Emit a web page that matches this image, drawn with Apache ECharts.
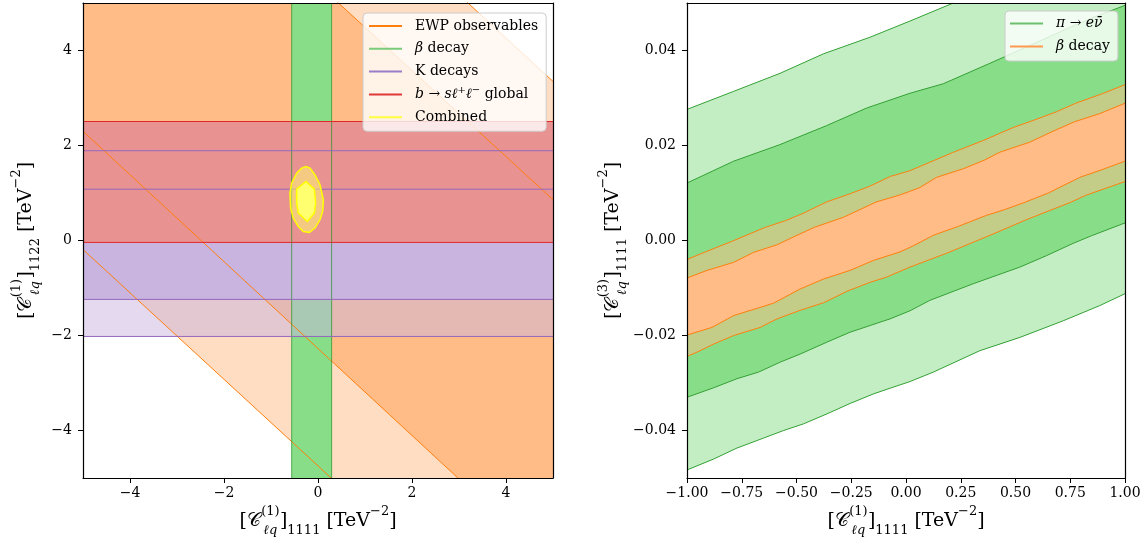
<!DOCTYPE html>
<html>
<head>
<meta charset="utf-8">
<script src="https://cdn.jsdelivr.net/npm/echarts@6/dist/echarts.min.js"></script>
<style>
html,body{margin:0;padding:0;background:#fff;}
#chart{width:1146px;height:548px;}
</style>
</head>
<body>
<div id="chart"></div>
<script>
// ================= LEFT PANEL DATA =================
const leftXRange = [-5, 5];
const leftYRange = [-5, 5];
const leftTicks = [-4, -2, 0, 2, 4];
// EWP observables: contour lines (endpoints at x = -5 and x = 5)
const ewp2sLower = [[-5, -0.19], [5, -9.30]];
const ewp1sLower = [[-5, 2.30], [5, -6.85]];
const ewp1sUpper = [[-5, 9.93], [5, 0.86]];
const ewp2sUpper = [[-5, 12.47], [5, 3.35]];
// beta decay: allowed range in x
const beta1s = [-0.56, 0.29];
// K decays: allowed ranges in y
const kaon1s = [-1.24, 1.08];
const kaon2s = [-2.02, 1.89];
// b -> s l l global: allowed range in y
const bsll1s = [-0.04, 2.505];
// Combined contours
const combined2s = [[-0.597,0.998],[-0.561,1.208],[-0.454,1.419],[-0.348,1.524],[-0.256,1.558],[-0.170,1.524],[-0.064,1.383],[0.043,1.173],[0.114,0.857],[0.100,0.611],[0.043,0.436],[-0.064,0.261],[-0.185,0.168],[-0.313,0.189],[-0.420,0.295],[-0.526,0.472],[-0.582,0.682]];
const combined1s = [[-0.454,1.082],[-0.256,1.242],[-0.078,1.082],[-0.050,0.787],[-0.078,0.577],[-0.228,0.400],[-0.420,0.577],[-0.454,0.787]];

// ================= RIGHT PANEL DATA =================
const rightXRange = [-1, 1];
const rightYRange = [-0.05, 0.05];
const rightYTicks = [-0.04, -0.02, 0, 0.02, 0.04];
// pi -> e nu contours
const pi2sUpper = [[-1,0.0276],[-0.787,0.0314],[-0.575,0.0352],[-0.377,0.0393],[-0.164,0.0428],[0.018,0.0462],[0.216,0.0500]];
const pi1sUpper = [[-1,0.0121],[-0.787,0.0167],[-0.575,0.0202],[-0.362,0.0242],[-0.179,0.0279],[0.018,0.0310],[0.170,0.0330],[0.383,0.0373],[0.572,0.0412],[0.736,0.0446],[0.868,0.0472],[1,0.0495]];
const pi1sLower = [[-1,-0.0330],[-0.878,-0.0310],[-0.772,-0.0291],[-0.673,-0.0277],[-0.574,-0.0256],[-0.483,-0.0239],[-0.361,-0.0214],[-0.255,-0.0193],[-0.164,-0.0179],[-0.073,-0.0165],[0.018,-0.0148],[0.109,-0.0126],[0.307,-0.0091],[0.520,-0.0056],[0.641,-0.0032],[0.763,-0.0006],[0.847,0.0010],[1,0.0037]];
const pi2sLower = [[-1,-0.0483],[-0.878,-0.0460],[-0.772,-0.0437],[-0.651,-0.0416],[-0.559,-0.0400],[-0.468,-0.0386],[-0.361,-0.0365],[-0.255,-0.0343],[-0.149,-0.0323],[-0.073,-0.0311],[0.018,-0.0297],[0.125,-0.0277],[0.337,-0.0232],[0.520,-0.0204],[0.718,-0.0169],[0.885,-0.0137],[1,-0.0112]];
// beta decay contours
const beta2sUpper = [[-1,-0.0040],[-0.927,-0.0026],[-0.796,-0.0002],[-0.647,0.0027],[-0.549,0.0042],[-0.466,0.0058],[-0.364,0.0081],[-0.252,0.0099],[-0.167,0.0114],[-0.071,0.0135],[0.018,0.0147],[0.212,0.0185],[0.355,0.0211],[0.490,0.0238],[0.588,0.0254],[0.687,0.0271],[0.775,0.0289],[0.890,0.0308],[1,0.0328]];
const beta1sUpper = [[-1,-0.0079],[-0.909,-0.0063],[-0.787,-0.0046],[-0.696,-0.0025],[-0.589,-0.0009],[-0.498,0.0011],[-0.417,0.0028],[-0.285,0.0049],[-0.137,0.0081],[-0.027,0.0096],[0.061,0.0111],[0.140,0.0133],[0.261,0.0151],[0.357,0.0169],[0.429,0.0186],[0.565,0.0207],[0.671,0.0230],[0.769,0.0250],[0.884,0.0267],[1,0.0289]];
const beta1sLower = [[-1,-0.0199],[-0.886,-0.0183],[-0.787,-0.0158],[-0.681,-0.0143],[-0.605,-0.0132],[-0.483,-0.0102],[-0.376,-0.0081],[-0.256,-0.0063],[-0.149,-0.0042],[-0.027,-0.0024],[0.034,-0.0011],[0.125,0.0011],[0.240,0.0030],[0.368,0.0053],[0.450,0.0065],[0.535,0.0079],[0.650,0.0100],[0.794,0.0133],[0.900,0.0150],[1,0.0167]];
const beta2sLower = [[-1,-0.0244],[-0.954,-0.0235],[-0.878,-0.0218],[-0.787,-0.0200],[-0.666,-0.0183],[-0.589,-0.0165],[-0.483,-0.0147],[-0.376,-0.0131],[-0.270,-0.0107],[-0.164,-0.0088],[-0.088,-0.0077],[0.018,-0.0056],[0.185,-0.0027],[0.300,-0.0005],[0.420,0.0018],[0.540,0.0042],[0.650,0.0062],[0.750,0.0080],[0.820,0.0095],[0.900,0.0108],[1,0.0124]];

// ================= LEGENDS =================
const leftLegendKeys = ['ewp', 'betaL', 'kaon', 'bsll', 'comb'];
const leftLegendLabels = ['EWP observables', '{i|β} decay', 'K decays', '{i|b} → {i|sℓ}{s|+}{i|ℓ}{s|−} global', 'Combined'];
const leftLegendColors = ['#ff7f0e', '#7acb7a', '#9a7dc9', '#e03838', '#ffff40'];
const rightLegendKeys = ['pienu', 'betaR'];
const rightLegendLabels = ['{i|π} → {i|eν̄}', '{i|β} decay'];
const rightLegendColors = ['#6dbf6d', '#ff9a50'];

// ================= STYLES =================
const FONT = "'DejaVu Serif', 'Liberation Serif', serif";
const C_ORANGE = '#ffbc86', C_ORANGE2 = 'rgba(255,188,134,0.5)';
const C_GREEN = '#88de88', C_GREEN2 = 'rgba(136,222,136,0.5)';
const C_PURPLE = '#c9b4df', C_PURPLE2 = 'rgba(201,180,223,0.5)';
const C_RED = '#e99292';
const C_YELLOW = '#ffff70', C_YELLOW2 = 'rgba(255,255,112,0.5)';

// ================= HELPERS =================
function hBand(range, xr) { return [[xr[0], range[0]], [xr[1], range[0]], [xr[1], range[1]], [xr[0], range[1]]]; }
function vBand(range, yr) { return [[range[0], yr[0]], [range[1], yr[0]], [range[1], yr[1]], [range[0], yr[1]]]; }
function between(lower, upper) { return lower.concat(upper.slice().reverse()); }
function hLine(v, xr) { return [[xr[0], v], [xr[1], v]]; }
function vLine(v, yr) { return [[v, yr[0]], [v, yr[1]]]; }

function polySeries(name, axis, pts, fill, z, stroke, strokeWidth) {
  return {
    type: 'custom', name: name, xAxisIndex: axis, yAxisIndex: axis, clip: true, silent: true, z: z,
    data: [[0, 0]],
    renderItem: function (params, api) {
      const cs = params.coordSys;
      return {
        type: 'polygon',
        shape: { points: pts.map(function (p) { return api.coord(p); }) },
        style: { fill: fill, stroke: stroke || null, lineWidth: strokeWidth || 0 },
        clipPath: { type: 'rect', shape: { x: cs.x, y: cs.y, width: cs.width, height: cs.height } }
      };
    }
  };
}
function lineSeries(name, axis, pts, color, width, z) {
  return {
    type: 'line', name: name, xAxisIndex: axis, yAxisIndex: axis, data: pts,
    showSymbol: false, symbol: 'none', silent: true, clip: true, z: z, color: color,
    lineStyle: { color: color, width: width }, emphasis: { disabled: true }
  };
}

const titleRich = {
  n: { fontFamily: FONT, fontSize: 19, lineHeight: 32, color: '#000' },
  c: { fontFamily: "'DejaVu Serif', 'Noto Sans', serif", fontSize: 19, lineHeight: 32, color: '#000' },
  sp: { fontFamily: FONT, fontSize: 30, lineHeight: 32, color: '#000' },
  sup: { fontFamily: FONT, fontSize: 13, lineHeight: 15, verticalAlign: 'top', width: 0.01, color: '#000' },
  sub: { fontFamily: FONT, fontSize: 13, lineHeight: 15, verticalAlign: 'bottom', fontStyle: 'italic', width: 0.01, color: '#000' },
  sub2: { fontFamily: FONT, fontSize: 13, lineHeight: 15, verticalAlign: 'bottom', color: '#000' },
  sup2: { fontFamily: FONT, fontSize: 13, lineHeight: 15, verticalAlign: 'top', color: '#000' }
};
function titleText(sup, idx) {
  return '{n|[}{c|𝒞}{sp| }{sup|(' + sup + ')}{sub|ℓq}{sp| }{n|]}{sub2|' + idx + '}{n| [TeV}{sup2|−2}{n|]}';
}
function fmtInt(v) { return (v < 0 ? '−' : '') + Math.abs(v); }
function fmt2(v) { return (v < -1e-9 ? '−' : '') + Math.abs(v).toFixed(2); }

function mainAxis(grid, pos, min, max, opts) {
  const a = {
    type: 'value', gridIndex: grid, position: pos, min: min, max: max, z: 10,
    axisLine: { show: true, onZero: false, lineStyle: { color: '#000', width: 1.2 } },
    axisTick: { show: true, inside: false, length: 5, lineStyle: { color: '#000', width: 1 } },
    axisLabel: { show: true, color: '#000', fontFamily: FONT, fontSize: 14, margin: opts.margin },
    splitLine: { show: false }
  };
  if (opts.ticks) { a.axisTick.customValues = opts.ticks; a.axisLabel.customValues = opts.ticks; }
  if (opts.interval) { a.interval = opts.interval; }
  a.axisLabel.formatter = opts.formatter;
  a.name = opts.name; a.nameLocation = 'middle'; a.nameGap = opts.nameGap;
  if (opts.rotate) a.nameRotate = opts.rotate;
  a.nameTextStyle = { fontFamily: FONT, fontSize: 19, color: '#000', rich: titleRich };
  return a;
}
function frameAxis(grid, pos, min, max) {
  return {
    type: 'value', gridIndex: grid, position: pos, min: min, max: max, z: 10,
    axisLine: { show: true, onZero: false, lineStyle: { color: '#000', width: 1.2 } },
    axisTick: { show: false }, axisLabel: { show: false }, splitLine: { show: false }
  };
}

// ================= SERIES =================
const series = [];
// left panel fills
series.push(polySeries('f-ewp2', 0, between(ewp2sLower, ewp2sUpper), C_ORANGE2, 1));
series.push(polySeries('f-ewp1', 0, between(ewp1sLower, ewp1sUpper), C_ORANGE, 1));
series.push(polySeries('f-beta', 0, vBand(beta1s, leftYRange), C_GREEN, 1));
series.push(polySeries('f-k2', 0, hBand(kaon2s, leftXRange), C_PURPLE2, 1));
series.push(polySeries('f-k1', 0, hBand(kaon1s, leftXRange), C_PURPLE, 1));
series.push(polySeries('f-bsll', 0, hBand(bsll1s, leftXRange), C_RED, 1));
// left panel contour lines
[ewp2sLower, ewp1sLower, ewp1sUpper, ewp2sUpper].forEach(function (l) { series.push(lineSeries('ewp', 0, l, '#ff7f0e', 1, 2)); });
beta1s.forEach(function (v) { series.push(lineSeries('betaL', 0, vLine(v, leftYRange), 'rgba(44,150,44,0.75)', 1, 2)); });
kaon1s.concat(kaon2s).forEach(function (v) { series.push(lineSeries('kaon', 0, hLine(v, leftXRange), '#9467bd', 1, 2)); });
bsll1s.forEach(function (v) { series.push(lineSeries('bsll', 0, hLine(v, leftXRange), '#e0282a', 1, 2)); });
// combined
series.push(polySeries('f-comb2', 0, combined2s, C_YELLOW2, 3, '#ffff00', 1.5));
series.push(polySeries('f-comb1', 0, combined1s, C_YELLOW, 3, '#ffff00', 1.5));
series.push(lineSeries('comb', 0, [], '#ffff40', 1.5, 3));

// right panel fills
series.push(polySeries('f-pi2', 2, pi2sLower.concat([[rightXRange[1], rightYRange[1]]], pi2sUpper.slice().reverse()), C_GREEN2, 1));
series.push(polySeries('f-pi1', 2, between(pi1sLower, pi1sUpper), C_GREEN, 1));
series.push(polySeries('f-b2', 2, between(beta2sLower, beta2sUpper), C_ORANGE2, 1));
series.push(polySeries('f-b1', 2, between(beta1sLower, beta1sUpper), C_ORANGE, 1));
// right panel lines
[pi2sUpper, pi1sUpper, pi1sLower, pi2sLower].forEach(function (l) { series.push(lineSeries('pienu', 2, l, '#34a034', 1, 2)); });
[beta2sUpper, beta1sUpper, beta1sLower, beta2sLower].forEach(function (l) { series.push(lineSeries('betaR', 2, l, '#ff7f0e', 1, 2)); });

function legendCfg(keys, labels, colors, left, top, padding) {
  const map = {};
  keys.forEach(function (k, i) { map[k] = labels[i]; });
  return {
    orient: 'vertical', left: left, top: top, z: 20, selectedMode: false,
    data: keys.map(function (k, i) { return { name: k, icon: 'rect', itemStyle: { color: colors[i] } }; }),
    itemWidth: 33, itemHeight: 2, itemGap: 4.8, padding: padding,
    backgroundColor: 'rgba(255,255,255,0.8)', borderColor: '#cccccc', borderWidth: 1, borderRadius: 4,
    formatter: function (n) { return map[n]; },
    textStyle: {
      fontFamily: FONT, fontSize: 14, color: '#000', lineHeight: 18, padding: [0, 0, 0, 8],
      rich: {
        i: { fontFamily: FONT, fontSize: 14, fontStyle: 'italic', color: '#000', lineHeight: 18 },
        s: { fontFamily: FONT, fontSize: 10, verticalAlign: 'top', lineHeight: 12, color: '#000' }
      }
    }
  };
}

const option = {
  animation: false,
  backgroundColor: '#ffffff',
  grid: [
    { left: 83, top: 3, width: 470, height: 475, containLabel: false },
    { left: 687, top: 3, width: 438, height: 475, containLabel: false }
  ],
  xAxis: [
    mainAxis(0, 'bottom', leftXRange[0], leftXRange[1], { ticks: leftTicks, formatter: fmtInt, name: titleText(1, '1111'), nameGap: 26, margin: 8 }),
    frameAxis(0, 'top', leftXRange[0], leftXRange[1]),
    mainAxis(1, 'bottom', rightXRange[0], rightXRange[1], { interval: 0.25, formatter: fmt2, name: titleText(1, '1111'), nameGap: 26, margin: 8 }),
    frameAxis(1, 'top', rightXRange[0], rightXRange[1])
  ],
  yAxis: [
    mainAxis(0, 'left', leftYRange[0], leftYRange[1], { ticks: leftTicks, formatter: fmtInt, name: titleText(1, '1122'), nameGap: 41, rotate: 90, margin: 11 }),
    frameAxis(0, 'right', leftYRange[0], leftYRange[1]),
    mainAxis(1, 'left', rightYRange[0], rightYRange[1], { ticks: rightYTicks, formatter: fmt2, name: titleText(3, '1111'), nameGap: 52, rotate: 90, margin: 11 }),
    frameAxis(1, 'right', rightYRange[0], rightYRange[1])
  ],
  legend: [
    legendCfg(leftLegendKeys, leftLegendLabels, leftLegendColors, 363, 13, [4, 8, 5, 6]),
    legendCfg(rightLegendKeys, rightLegendLabels, rightLegendColors, 1005, 11, [3.6, 8, 5.6, 5])
  ],
  series: series
};

const chart = echarts.init(document.getElementById('chart'), null, { renderer: 'canvas' });
chart.setOption(option);
</script>
</body>
</html>
